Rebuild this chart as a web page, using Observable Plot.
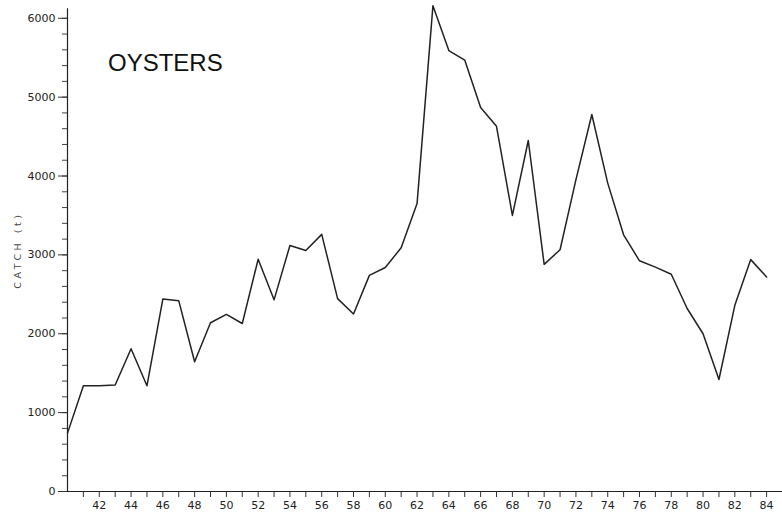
<!DOCTYPE html>
<html>
<head>
<meta charset="utf-8">
<script src="https://cdn.jsdelivr.net/npm/d3@7"></script>
<script src="https://cdn.jsdelivr.net/npm/@observablehq/plot@0.6"></script>
<style>
  html, body { margin: 0; padding: 0; background: #fff; }
  #chart svg { display: block; }
</style>
</head>
<body>
<div id="chart"></div>
<script>
const years = d3.range(1940, 1985);
const catchT = [740, 1340, 1340, 1350, 1810, 1340, 2440, 2420, 1645, 2140,
  2245, 2130, 2945, 2430, 3120, 3055, 3260, 2445, 2250, 2740,
  2840, 3090, 3650, 6160, 5590, 5470, 4870, 4630, 3500, 4450,
  2880, 3065, 3955, 4780, 3910, 3255, 2925, 2845, 2755, 2320,
  2000, 1420, 2360, 2940, 2720];
const title = "OYSTERS";
const yLabel = "CATCH (t)";
const xTicks = d3.range(1941, 1985);
const yMinorTicks = d3.range(0, 6001, 200);
const yMajorTicks = d3.range(0, 6001, 1000);

const data = years.map((y, i) => ({year: y, value: catchT[i]}));
const ink = "#222";

const chart = Plot.plot({
  width: 782,
  height: 515,
  marginLeft: 67,
  marginRight: 0,
  marginTop: 2,
  marginBottom: 24,
  style: {fontFamily: "DejaVu Sans, sans-serif", fontSize: "11px", color: ink, background: "#fff"},
  x: {domain: [1940, 1985]},
  y: {domain: [0, 6200]},
  marks: [
    Plot.axisX({ticks: xTicks, tickSize: 6, tickPadding: 4, fontSize: 11,
      tickFormat: d => d % 2 === 0 ? String(d % 100) : "", label: null, stroke: "#333"}),
    Plot.axisY({ticks: yMinorTicks, tickSize: 5, tickFormat: () => "", label: null, stroke: "#444"}),
    Plot.axisY({ticks: yMajorTicks, tickSize: 9, tickPadding: 3, fontSize: 11,
      tickFormat: d => String(d), label: null, stroke: "#333"}),
    Plot.ruleY([0], {stroke: ink, strokeWidth: 1.2}),
    Plot.ruleX([1940], {y1: 0, y2: 6120, stroke: ink, strokeWidth: 1.2}),
    Plot.line(data, {x: "year", y: "value", stroke: ink, strokeWidth: 1.5}),
    Plot.text([title], {x: () => 1942.55, y: () => 5330, textAnchor: "start", lineAnchor: "bottom",
      fontSize: 24, fontFamily: "Liberation Sans, Arial, sans-serif", fill: "#111"}),
    Plot.text([yLabel], {x: () => 1940, y: () => 3060, dx: -50, rotate: -90,
      fontSize: 9.5, fill: "#444"})
  ]
});

d3.select(chart).selectAll("text")
  .filter(function() { return this.textContent === yLabel; })
  .attr("letter-spacing", "3.5px");

document.getElementById("chart").appendChild(chart);
</script>
</body>
</html>
